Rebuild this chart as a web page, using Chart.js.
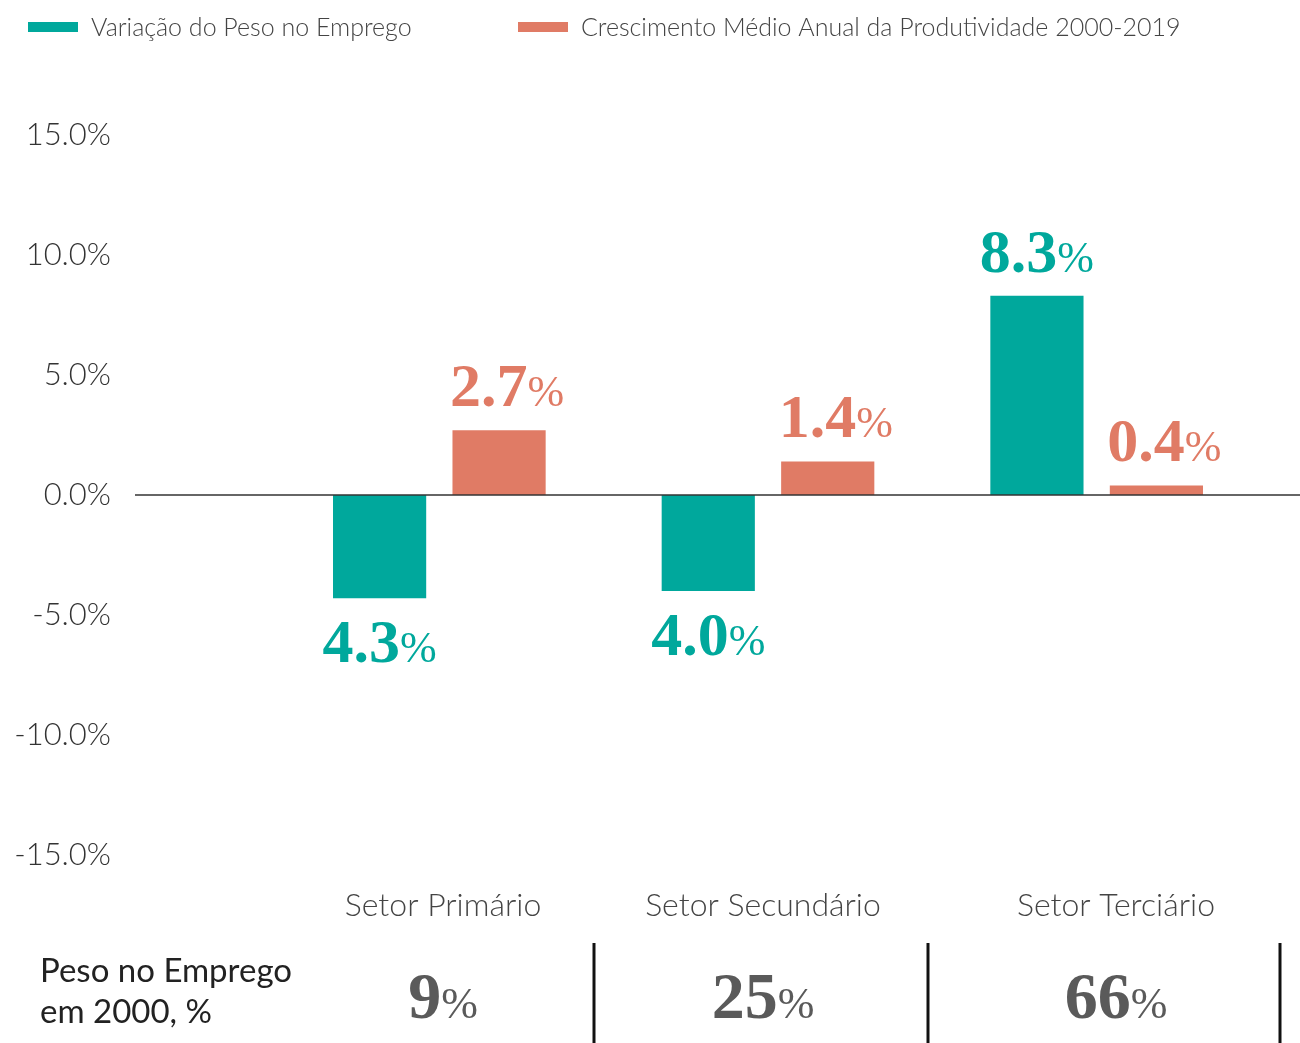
<!DOCTYPE html>
<html lang="pt">
<head>
<meta charset="utf-8">
<title>Emprego e Produtividade por Setor</title>
<script src="https://cdn.jsdelivr.net/npm/chart.js@4"></script>
<style>
  html, body { margin: 0; padding: 0; background: #fff; }
  #wrap { width: 1300px; height: 1043px; position: relative; }
</style>
</head>
<body>
<div id="wrap"><canvas id="setoresChart"></canvas></div>
<script>
// Sectors, employment share change and yearly productivity growth
const sectors = ['Setor Primário', 'Setor Secundário', 'Setor Terciário'];
const employmentChange = [-4.3, -4.0, 8.3];
const productivityGrowth = [2.7, 1.4, 0.4];
const employmentShare2000 = [9, 25, 66];
const seriesNames = ['Variação do Peso no Emprego', 'Crescimento Médio Anual da Produtividade 2000-2019'];
const yTicks = [-15, -10, -5, 0, 5, 10, 15];

const TEAL = '#00a89c';
const SALMON = '#e07b65';
const SANS = '"Source Sans Pro", Lato, "Noto Sans", sans-serif';
const SERIF = '"Liberation Serif", "DejaVu Serif", serif';

// column centres used for the sector names and the share table underneath
const colCenters = [443, 763, 1116];
const dividers = [594, 928, 1280];
const legendX = [28, 518];

// value labels over/under each bar, big serif digits + smaller %
const barLabels = {
  id: 'barLabels',
  afterDatasetsDraw(chart) {
    const ctx = chart.ctx;
    const yScale = chart.scales.y;
    const zeroY = yScale.getPixelForValue(0);

    // baseline
    ctx.save();
    ctx.strokeStyle = '#333';
    ctx.lineWidth = 1.5;
    ctx.beginPath();
    ctx.moveTo(135, zeroY);
    ctx.lineTo(1300, zeroY);
    ctx.stroke();
    ctx.restore();

    chart.data.datasets.forEach((ds, di) => {
      const meta = chart.getDatasetMeta(di);
      meta.data.forEach((bar, i) => {
        const v = ds.data[i];
        const digits = Math.abs(v).toFixed(1);
        ctx.save();
        ctx.fillStyle = ds.backgroundColor;
        ctx.textBaseline = 'alphabetic';
        ctx.font = 'bold 62px ' + SERIF;
        const wd = ctx.measureText(digits).width;
        ctx.font = '44px ' + SERIF;
        const wp = ctx.measureText('%').width;
        const shift = di === 1 ? 8 : 0;
        const x0 = bar.x - (wd + wp) / 2 + shift;
        const y = v >= 0 ? bar.y - 24 : bar.y + 64;
        ctx.textAlign = 'left';
        ctx.font = 'bold 62px ' + SERIF;
        ctx.fillText(digits, x0, y);
        ctx.font = '44px ' + SERIF;
        ctx.fillText('%', x0 + wd, y);
        ctx.restore();
      });
    });
  },
  afterDraw(chart) {
    const ctx = chart.ctx;
    ctx.save();

    // legend
    chart.data.datasets.forEach((ds, i) => {
      ctx.fillStyle = ds.backgroundColor;
      ctx.fillRect(legendX[i], 22, 50, 10);
      ctx.fillStyle = '#444';
      ctx.font = '300 25px ' + SANS;
      ctx.textAlign = 'left';
      ctx.textBaseline = 'middle';
      ctx.fillText(ds.label, legendX[i] + 63, 28);
    });

    // sector names
    ctx.fillStyle = '#444';
    ctx.font = '300 32px ' + SANS;
    ctx.textAlign = 'center';
    ctx.textBaseline = 'middle';
    sectors.forEach((s, i) => ctx.fillText(s, colCenters[i], 906));

    // share of employment in 2000
    ctx.fillStyle = '#222';
    ctx.font = '400 33px ' + SANS;
    ctx.textAlign = 'left';
    ctx.fillText('Peso no Emprego', 40, 971);
    ctx.fillText('em 2000, %', 40, 1012);

    employmentShare2000.forEach((v, i) => {
      ctx.fillStyle = '#5a5a5a';
      ctx.textBaseline = 'alphabetic';
      ctx.font = 'bold 66px ' + SERIF;
      const wd = ctx.measureText(String(v)).width;
      ctx.font = '44px ' + SERIF;
      const wp = ctx.measureText('%').width;
      const x0 = colCenters[i] - (wd + wp) / 2;
      ctx.textAlign = 'left';
      ctx.font = 'bold 66px ' + SERIF;
      ctx.fillText(String(v), x0, 1018);
      ctx.font = '44px ' + SERIF;
      ctx.fillText('%', x0 + wd, 1018);
    });

    ctx.strokeStyle = '#111';
    ctx.lineWidth = 3;
    dividers.forEach(x => {
      ctx.beginPath();
      ctx.moveTo(x, 943);
      ctx.lineTo(x, 1043);
      ctx.stroke();
    });
    ctx.restore();
  }
};

const ctx = document.getElementById('setoresChart').getContext('2d');
new Chart(ctx, {
  type: 'bar',
  data: {
    labels: sectors,
    datasets: [
      { label: seriesNames[0], data: employmentChange, backgroundColor: TEAL },
      { label: seriesNames[1], data: productivityGrowth, backgroundColor: SALMON }
    ]
  },
  options: {
    responsive: true,
    maintainAspectRatio: false,
    animation: false,
    datasets: {
      bar: { categoryPercentage: 0.727, barPercentage: 0.78 }
    },
    layout: { padding: { top: 135, bottom: 188, left: 0, right: 39 } },
    scales: {
      x: { display: false },
      y: {
        min: yTicks[0],
        max: yTicks[yTicks.length - 1],
        afterBuildTicks: scale => { scale.ticks = yTicks.map(v => ({ value: v })); },
        afterFit: scale => {
          scale.width = 275;
          // keep the wide label gap from pushing the plot area down
          scale.paddingTop = 0;
          scale.paddingBottom = 0;
        },
        grid: { display: false, drawTicks: false },
        border: { display: false },
        ticks: {
          padding: 164,
          color: '#333',
          font: { family: SANS, size: 31, weight: '300' },
          callback: v => v.toFixed(1) + '%'
        }
      }
    },
    plugins: {
      legend: { display: false },
      tooltip: { enabled: false }
    }
  },
  plugins: [barLabels]
});
</script>
</body>
</html>
